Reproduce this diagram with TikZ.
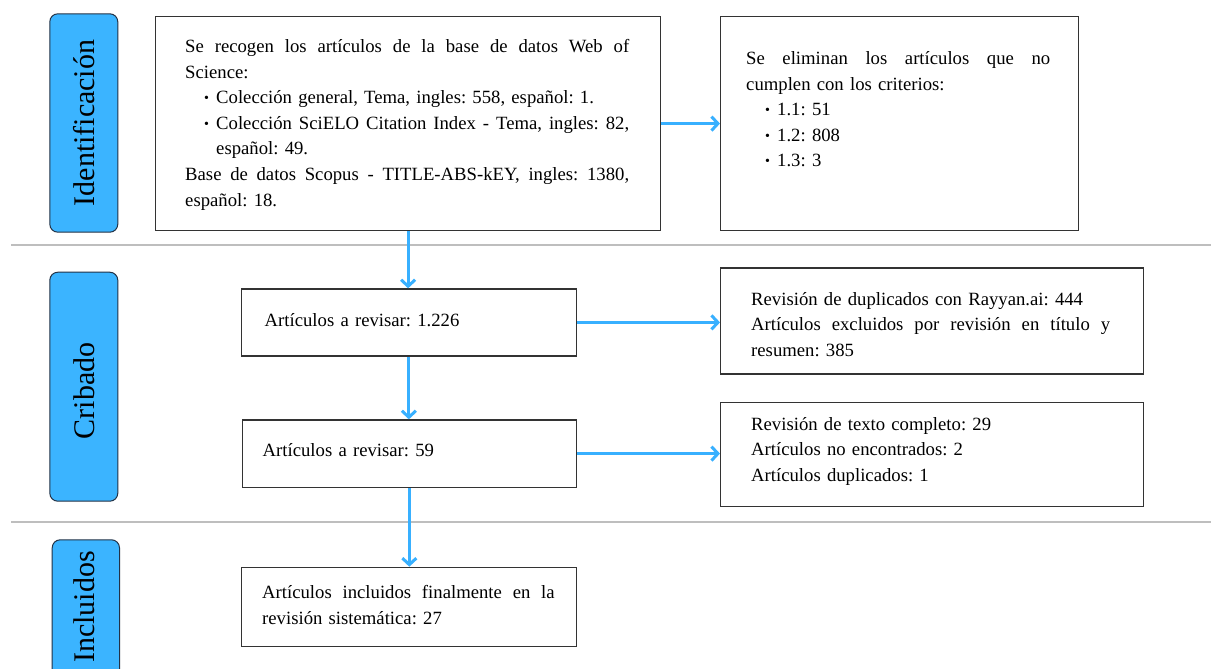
\documentclass[tikz,border=0pt]{standalone}
\usepackage{fontspec}
\setmainfont{Liberation Serif}
\usepackage{graphicx}
\usetikzlibrary{arrows.meta}
\definecolor{sidefill}{RGB}{59,180,255}
\definecolor{sideline}{RGB}{35,50,70}
\definecolor{flow}{RGB}{56,176,255}
\definecolor{sepgray}{RGB}{190,190,190}
\frenchspacing
% bullet for list items, text starts 31pt in
\newcommand{\bul}{\makebox[31pt][l]{\hspace{19pt}\raisebox{1.2pt}{\scalebox{0.75}{\textbullet}}}}
% a fully justified line of a given width
\newcommand{\jl}[2]{\makebox[#1][s]{\spaceskip=0.25em plus 2em minus 0.05em\relax #2}}

\begin{document}
\begin{tikzpicture}[x=1pt,y=-1pt,
  box/.style={draw=black!80, line width=1.2pt, rectangle, inner sep=0pt, anchor=north west},
  side/.style={draw=sideline, line width=1pt, fill=sidefill, rounded corners=8pt, rectangle, inner sep=0pt, anchor=north west},
  sidetext/.style={rotate=90, font=\fontsize{30}{36}\selectfont, inner sep=0pt},
  txt/.style={anchor=base west, inner sep=0pt, align=left, font=\fontsize{18.7}{25.6}\selectfont},
  flowarrow/.style={draw=flow, line width=3pt, -{Straight Barb[length=6.5pt,width=14pt]}},
  sepline/.style={draw=sepgray, line width=2.5pt}]

\useasboundingbox (0,0) rectangle (1211,669);
\fill[white] (0,0) rectangle (1211,669);
\clip (0,0) rectangle (1211,669);

% phase separators
\coordinate (sep1l) at (11,245);  \coordinate (sep1r) at (1211,245);
\coordinate (sep2l) at (11,522);  \coordinate (sep2r) at (1211,522);
\draw[sepline] (sep1l) -- (sep1r);
\draw[sepline] (sep2l) -- (sep2r);

% phase labels
\node[side, minimum width=68pt, minimum height=218.4pt] (s1) at (49.3,13.3) {};
\node[sidetext] (s1t) at (s1.center) {Identificación};
\node[side, minimum width=68pt, minimum height=229pt] (s2) at (49.3,271.7) {};
\node[sidetext] (s2t) at ([yshift=-4pt]s2.center) {Cribado};
\node[side, minimum width=67.3pt, minimum height=170pt] (s3) at (51.7,539.3) {};
\node[sidetext] (s3t) at (84,607) {Incluidos};

% boxes
\node[box, minimum width=505pt, minimum height=214pt] (a1) at (155,16) {};
\node[box, minimum width=357.5pt, minimum height=214pt] (a2) at (720,16) {};
\node[box, minimum width=334.5pt, minimum height=67pt] (b1) at (241,288.3) {};
\node[box, minimum width=422.7pt, minimum height=106pt] (b2) at (720,267.3) {};
\node[box, minimum width=334.5pt, minimum height=67.4pt] (c1) at (241.5,419.3) {};
\node[box, minimum width=422.7pt, minimum height=104.3pt] (c2) at (720,401.7) {};
\node[box, minimum width=334.5pt, minimum height=79pt] (d1) at (241,566.7) {};

% box texts
\node[txt, text width=444pt] (ta1) at (185,52.5) {%
\jl{444pt}{Se recogen los artículos de la base de datos Web of}\\
Science:\\
\bul Colección general, Tema, ingles: 558, español: 1.\\
\bul\jl{413pt}{Colección SciELO Citation Index - Tema, ingles: 82,}\\
\hspace*{31pt}español: 49.\\
\jl{444pt}{Base de datos Scopus - TITLE-ABS-kEY, ingles: 1380,}\\
español: 18.};

\node[txt, text width=304pt] (ta2) at (746,64.5) {%
\jl{304pt}{Se eliminan los artículos que no}\\
cumplen con los criterios:\\
\bul 1.1: 51\\
\bul 1.2: 808\\
\bul 1.3: 3};

\node[txt, text width=300pt] (tb1) at (264.5,326) {Artículos a revisar: 1.226};

\node[txt, text width=359pt] (tb2) at (751,305) {%
Revisión de duplicados con Rayyan.ai: 444\\
\jl{359pt}{Artículos excluidos por revisión en título y}\\
resumen: 385};

\node[txt, text width=300pt] (tc1) at (262.5,456.5) {Artículos a revisar: 59};

\node[txt, text width=359pt] (tc2) at (751,430) {%
Revisión de texto completo: 29\\
Artículos no encontrados: 2\\
Artículos duplicados: 1};

\node[txt, text width=292.5pt] (td1) at (262,598.5) {%
\jl{292.5pt}{Artículos incluidos finalmente en la}\\
revisión sistemática: 27};

% flow connectors
\draw[flowarrow] (a1.east) -- (a1.east -| a2.west);
\draw[flowarrow] (a1.south) -- (a1.south |- b1.north);
\draw[flowarrow] (b1.east) -- (b1.east -| b2.west);
\draw[flowarrow] (b1.south) -- (b1.south |- c1.north);
\draw[flowarrow] (c1.east) -- (c1.east -| c2.west);
\draw[flowarrow] (c1.south) -- (c1.south |- d1.north);
\end{tikzpicture}
\end{document}
